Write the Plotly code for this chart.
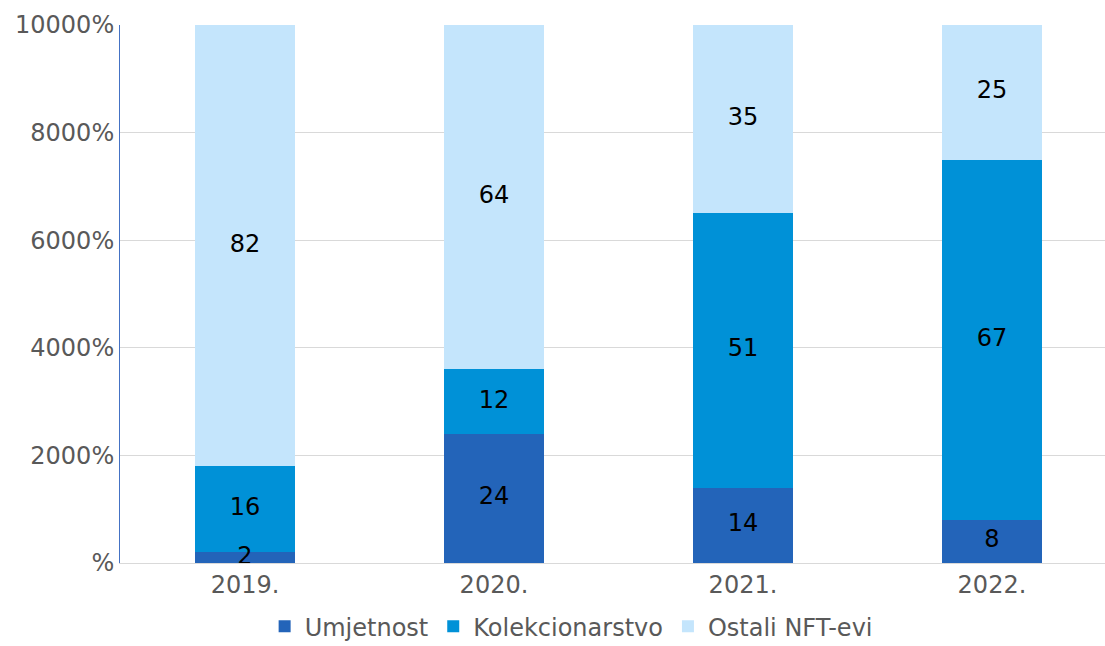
import plotly.graph_objects as go

categories = ["2019.", "2020.", "2021.", "2022."]
umjetnost = [2, 24, 14, 8]
kolekcionarstvo = [16, 12, 51, 67]
ostali = [82, 64, 35, 25]
y_tick_values = [0, 20, 40, 60, 80, 100]
y_tick_labels = ["%", "2000%", "4000%", "6000%", "8000%", "10000%"]

series = [
    ("Umjetnost", umjetnost, "#2364B9"),
    ("Kolekcionarstvo", kolekcionarstvo, "#0091D7"),
    ("Ostali NFT-evi", ostali, "#C4E5FC"),
]

FONT = "DejaVu Sans"
FS = 24
xs = list(range(len(categories)))
fig = go.Figure()
base = [0] * len(categories)
label_x, label_y, label_t = [], [], []
for name, vals, color in series:
    fig.add_trace(go.Bar(
        name=name,
        x=xs,
        y=vals,
        marker=dict(color=color, line=dict(width=0)),
        width=0.4016,
        hoverinfo="skip",
    ))
    for i, v in enumerate(vals):
        label_x.append(xs[i])
        label_y.append(base[i] + v / 2)
        label_t.append(str(v))
        base[i] += v

fig.add_trace(go.Scatter(
    x=label_x, y=label_y, text=label_t, mode="text",
    textposition="middle center",
    textfont=dict(family=FONT, size=FS, color="#000000"),
    showlegend=False, hoverinfo="skip", cliponaxis=False,
))

fig.update_layout(
    barmode="stack",
    width=1105,
    height=646,
    margin=dict(l=120, r=0, t=25, b=83, autoexpand=False),
    paper_bgcolor="white",
    plot_bgcolor="white",
    font=dict(family=FONT, size=FS, color="#595959"),
    showlegend=True,
    legend=dict(
        orientation="h",
        x=0.458, xref="paper", xanchor="center",
        y=-0.1600, yanchor="bottom",
        font=dict(family=FONT, size=FS, color="#595959"),
        itemwidth=30,
        tracegroupgap=0,
        traceorder="normal",
    ),
    xaxis=dict(
        range=[-0.502, 3.454],
        tickvals=xs,
        ticktext=categories,
        showgrid=False,
        showline=True,
        linecolor="#D9D9D9",
        linewidth=1,
        ticks="",
        tickfont=dict(family=FONT, size=FS, color="#595959"),
        zeroline=False,
    ),
    yaxis=dict(
        range=[0, 100],
        tickvals=y_tick_values,
        ticktext=y_tick_labels,
        showgrid=True,
        gridcolor="#D9D9D9",
        gridwidth=1,
        showline=True,
        linecolor="#4472C4",
        linewidth=1,
        ticks="",
        tickfont=dict(family=FONT, size=FS, color="#595959"),
        zeroline=False,
    ),
)

fig.write_html("out.html")
